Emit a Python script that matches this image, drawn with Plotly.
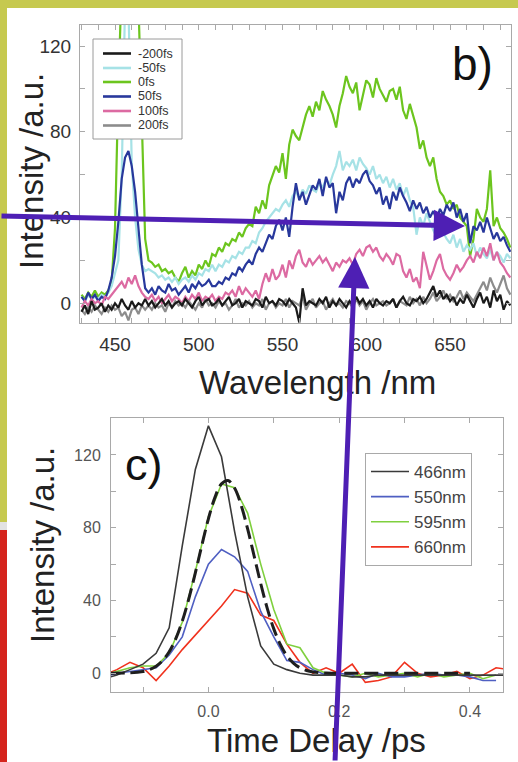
import plotly.graph_objects as go

W, H = 518, 762

def px(x):
    return x / W

def py(y):
    return 1 - y / H

# ---------------- panel b) : spectra ----------------
wavelength_nm = list(range(430, 687, 2))

spec_m200fs = [
    -4, -1, -5, 1, -3, -2, 0, -4, -1, -3,
    0, -2, 2, -1, -3, 1, -2, 0, -1, 2,
    -1, 1, -2, 0, 2, -1, 1, -2, 0, 1,
    -1, 2, 0, -2, 1, 3, -1, 1, 2, -1,
    0, 2, -1, 1, 3, -1, 0, 2, -2, 1,
    0, -1, 2, 1, -2, 3, 0, 1, -1, 2,
    1, -1, 2, 0, -2, -9, 7, -1, 1, 0,
    -1, 2, 0, 3, -2, 1, -1, 2, 0, -2,
    1, -1, 3, 0, 2, -1, 1, -2, 2, 0,
    -1, 1, 0, 2, -2, 1, 3, 0, -1, 2,
    1, 3, 0, 2, 5, 8, 3, 6, 2, 4,
    1, 3, -1, 2, 0, 4, 1, -2, 2, 5,
    0, 3, -2, 6, 1, 4, -3, 1, -1,
]
spec_m50fs = [
    3, 1, 4, 2, 3, 2, 4, 3, 5, 8,
    14, 20, 60, 140, 140, 65, 40, 25, 18, 15,
    16, 15, 14, 12, 13, 11, 12, 10, 12, 9,
    11, 12, 10, 13, 11, 14, 13, 16, 15, 18,
    15, 18, 17, 20, 19, 22, 21, 24, 23, 26,
    26, 29, 28, 33, 35, 38, 40, 42, 44, 43,
    46, 48, 45, 50, 52, 49, 53, 51, 55, 53,
    52, 56, 54, 58, 55, 60, 64, 71, 62, 66,
    64, 67, 62, 68, 65, 63, 60, 64, 58, 60,
    56, 59, 54, 58, 53, 56, 50, 54, 48, 45,
    32, 40, 36, 42, 38, 34, 31, 38, 33, 30,
    28, 32, 26, 30, 24, 27, 25, 28, 22, 26,
    23, 21, 25, 20, 24, 22, 19, 23, 21,
]
spec_0fs = [
    4, 2, 5, 3, 6, 3, 5, 4, 6, 10,
    35, 100, 150, 160, 165, 160, 155, 140, 90, 30,
    20, 19, 17, 18, 15, 16, 14, 15, 12, 10,
    14, 17, 12, 15, 13, 18, 16, 20, 17, 23,
    22, 26, 24, 28, 27, 30, 29, 33, 31, 35,
    37, 36, 45, 42, 48, 44, 55, 60, 64, 61,
    70, 58, 74, 81, 78, 76, 82, 88, 92, 87,
    94, 90, 99, 95, 92, 88, 82, 92, 98, 106,
    101, 98, 103, 90, 97, 104, 102, 96, 105, 100,
    97, 94, 99, 100, 95, 101, 90, 86, 93, 88,
    82, 72, 76, 68, 64, 68, 58, 52, 50, 46,
    48, 44, 46, 40, 38, 36, 22, 30, 44, 40,
    38, 44, 62, 36, 40, 35, 33, 30, 26,
]
spec_50fs = [
    3, 1, 5, 2, 4, 1, 3, 2, 6, 12,
    22, 38, 58, 68, 71, 64, 52, 36, 18, 7,
    5, 7, 4, 8, 6, 5, 9, 6, 7, 4,
    6, 8, 5, 9, 7, 10, 8, 9, 11, 8,
    8, 10, 9, 12, 11, 14, 13, 17, 15, 18,
    20, 18, 23, 26, 24, 28, 32, 30, 36, 39,
    34, 40, 31, 45, 56, 48, 52, 46, 51, 55,
    53, 58, 50, 59, 54, 56, 42, 52, 48, 56,
    59, 54, 58, 56, 60, 62, 57, 55, 51, 54,
    46, 50, 44, 52, 48, 54, 50, 47, 43, 48,
    44, 47, 42, 45, 40, 43, 39, 44, 41, 46,
    43, 47, 40, 44, 38, 42, 28, 36, 34, 38,
    33, 40, 35, 30, 33, 29, 31, 27, 24,
]
spec_100fs = [
    -2, 1, -1, 2, 0, 1, -1, 3, 2, 4,
    6, 8, 10, 7, 12, 9, 13, 8, 5, 3,
    2, 4, 1, 3, 0, 2, 4, 1, 3, 2,
    0, 3, 1, 4, 2, 5, 1, 3, 2, 4,
    1, 3, 2, 5, 4, 6, 3, 8, 4, 7,
    5, 3, 6, 2, 9, 14, 10, 16, 11, 13,
    18, 12, 20, 16, 22, 25, 19, 17, 21, 18,
    20, 22, 19, 21, 18, 15, 19, 17, 20, 19,
    21, 18, 23, 25, 22, 26, 27, 24, 26, 22,
    20, 23, 21, 18, 23, 22, 15, 12, 16, 10,
    12, 7, 24, 18, 11, 15, 20, 23, 16, 13,
    11, 14, 18, 15, 17, 20, 22, 19, 24, 21,
    26, 22, 28, 20, 24, 19, 17, 14, 12,
]
spec_200fs = [
    -3, -5, -2, -4, -1, -3, -5, -2, -4, -1,
    -3, -2, -6, -4, -8, -3, -2, -5, -1, -3,
    -1, -3, 0, -2, -1, -4, 0, -2, 1, -1,
    0, -2, 1, -1, -3, 0, -2, 2, -1, 0,
    -2, 1, -1, 0, -3, -1, 2, -2, 0, -1,
    1, -2, 0, -1, 2, -3, 0, 1, -2, 0,
    -1, 2, -2, 1, 0, -1, 3, -3, 0, 2,
    -2, 0, 1, -3, 0, 2, -1, 0, -2, 1,
    0, -2, 2, -1, 1, -3, 0, 2, -1, 0,
    1, -1, 0, 2, -2, 1, 0, -1, 3, 0,
    2, -1, 3, 0, 2, 5, 1, 3, 6, 2,
    4, 1, 3, 6, 2, 5, 3, 1, 4, 7,
    10, 6, 12, 8, 5, 9, 13, 7, 4,
]

spec_names = ["-200fs", "-50fs", "0fs", "50fs", "100fs", "200fs"]
spec_colors = ["#1a1a1a", "#a6e2e6", "#6cc51e", "#28389c", "#dc6aa2", "#8c8c8c"]
spec_values = [spec_m200fs, spec_m50fs, spec_0fs, spec_50fs, spec_100fs, spec_200fs]
spec_draw_order = [2, 1, 3, 4, 5, 0]

# ---------------- panel c) : kinetics ----------------
time_ps = [round(-0.16 + 0.02 * i, 2) for i in range(32)]
kin_466 = [-3, -1, 2, 5, 11, 25, 70, 112, 136, 119, 78, 42, 15, 5, 2, 0,
           -1, -1, -1, -2, -2, -1, -1, -1, -1, -1, -1, -1, -1, -1, -1, -1]
kin_550 = [-2, 0, 1, 2, 3, 10, 20, 42, 60, 68, 64, 56, 34, 20, 7, 6,
           2, -1, 0, -1, -3, 0, -2, -2, -1, 0, -1, -1, -2, -4, -4, None]
kin_595 = [-1, 1, 3, 4, 4, 11, 28, 56, 86, 104, 102, 88, 60, 35, 16, 14,
           3, 0, -1, -2, 0, -2, -1, 0, -2, 0, -2, -1, 0, -3, -1, None]
kin_660 = [-1, 2, 6, 3, -4, 4, 13, 21, 29, 37, 46, 44, 32, 29, 16, 6,
           0, 3, 0, 5, -5, -4, -2, 6, 0, -2, -1, 1, -3, -1, 3, 2]

fit_time_ps = [-0.15, -0.12, -0.10, -0.09, -0.08, -0.07, -0.06, -0.05, -0.04, -0.03,
               -0.02, -0.01, 0.00, 0.01, 0.02, 0.03, 0.04, 0.05, 0.06, 0.07,
               0.08, 0.09, 0.10, 0.11, 0.12, 0.13, 0.14, 0.15, 0.16, 0.18,
               0.25, 0.40]
fit_595 = [0, 0.2, 1.0, 2.0, 3.9, 7.0, 11.8, 18.9, 28.6, 40.9,
           55.2, 70.4, 84.9, 96.7, 104.1, 105.9, 101.8, 92.4, 79.3, 64.3,
           49.3, 35.7, 24.4, 15.8, 9.6, 5.6, 3.0, 1.5, 0.7, 0.1,
           0, 0]

kin_names = ["466nm", "550nm", "595nm", "660nm"]
kin_colors = ["#3a3a3a", "#4f5fc2", "#7fd03e", "#f0321e"]
kin_values = [kin_466, kin_550, kin_595, kin_660]
kin_draw_order = [3, 1, 2, 0]

FONT = "Liberation Sans, Arial, sans-serif"
PURPLE = "#4e1fb4"
YELLOW = "#c6c94f"

fig = go.Figure()

for i in spec_draw_order:
    fig.add_trace(go.Scatter(
        x=wavelength_nm, y=spec_values[i], name=spec_names[i], mode="lines",
        line=dict(color=spec_colors[i], width=2.2), showlegend=False,
        xaxis="x", yaxis="y"))

for i in kin_draw_order:
    fig.add_trace(go.Scatter(
        x=time_ps, y=kin_values[i], name=kin_names[i], mode="lines",
        line=dict(color=kin_colors[i], width=1.6), legendrank=i + 1,
        xaxis="x2", yaxis="y2", legend="legend2"))

fig.add_trace(go.Scatter(
    x=fit_time_ps, y=fit_595, mode="lines", showlegend=False,
    line=dict(color="#1e1e1e", width=3, dash="14px,6px", shape="spline"),
    xaxis="x2", yaxis="y2"))

axis_common = dict(
    showline=True, mirror="ticks", linecolor="#a9a9a9", linewidth=1,
    ticks="inside", ticklen=5, tickcolor="#a9a9a9", showgrid=False,
    zeroline=False, automargin=False,
)

fig.update_layout(
    width=W, height=H,
    margin=dict(l=0, r=0, t=0, b=0),
    paper_bgcolor=YELLOW,
    plot_bgcolor="white",
    font=dict(family=FONT, color="#222"),
    xaxis=dict(
        domain=[px(80), px(511)], range=[429.1, 686.4], anchor="y",
        tick0=450, dtick=50,
        minor=dict(dtick=10, ticks="inside", ticklen=5, tickcolor="#a9a9a9"),
        tickfont=dict(size=19, color="#333"), ticklabelstandoff=4,
        **axis_common),
    yaxis=dict(
        domain=[py(323), py(25)], range=[-9.2, 129.8], anchor="x",
        tick0=0, dtick=40,
        minor=dict(dtick=20, ticks="inside", ticklen=5, tickcolor="#a9a9a9"),
        tickfont=dict(size=19, color="#333"), ticklabelstandoff=4,
        **axis_common),
    xaxis2=dict(
        domain=[px(111), px(503)], range=[-0.149, 0.4506], anchor="y2",
        tick0=0, dtick=0.2, tickformat=".1f",
        minor=dict(dtick=0.1, ticks="inside", ticklen=5, tickcolor="#a9a9a9"),
        tickfont=dict(size=16, color="#555"), ticklabelstandoff=5,
        **axis_common),
    yaxis2=dict(
        domain=[py(692), py(418)], range=[-10.3, 140.3], anchor="x2",
        tick0=0, dtick=40,
        minor=dict(dtick=20, ticks="inside", ticklen=5, tickcolor="#a9a9a9"),
        tickfont=dict(size=16, color="#555"), ticklabelstandoff=6,
        **axis_common),
    legend2=dict(
        x=px(365), y=py(453), xanchor="left", yanchor="top",
        bgcolor="white", bordercolor="#a9a9a9", borderwidth=1,
        font=dict(size=17, color="#444"), tracegroupgap=0, itemwidth=38),
    showlegend=True,
)

shapes = [
    dict(type="rect", xref="paper", yref="paper", x0=px(7), x1=1.01, y0=-0.01, y1=py(8),
         fillcolor="white", line=dict(width=0), layer="below"),
    dict(type="rect", xref="paper", yref="paper", x0=-0.01, x1=px(7), y0=py(530), y1=py(522),
         fillcolor="#e2e2e2", line=dict(width=0), layer="below"),
    dict(type="rect", xref="paper", yref="paper", x0=-0.01, x1=px(7), y0=-0.01, y1=py(530),
         fillcolor="#d5241c", line=dict(width=0), layer="below"),
    # legend box of panel b)
    dict(type="rect", xref="paper", yref="paper", x0=px(93), x1=px(182), y0=py(139), y1=py(39),
         fillcolor="white", line=dict(color="#9a9a9a", width=1), layer="above"),
]

annotations = [
    dict(text="b)", x=px(472), y=py(64), xref="paper", yref="paper",
         xanchor="center", yanchor="middle",
         showarrow=False, font=dict(size=46, color="#111", family=FONT)),
    dict(text="c)", x=px(144), y=py(464), xref="paper", yref="paper",
         xanchor="center", yanchor="middle",
         showarrow=False, font=dict(size=45, color="#111", family=FONT)),
    dict(text="Intensity /a.u.", x=px(31), y=py(171), xref="paper", yref="paper",
         xanchor="center", yanchor="middle", textangle=-90,
         showarrow=False, font=dict(size=33, color="#222", family=FONT)),
    dict(text="Intensity /a.u.", x=px(42), y=py(545), xref="paper", yref="paper",
         xanchor="center", yanchor="middle", textangle=-90,
         showarrow=False, font=dict(size=33, color="#222", family=FONT)),
    dict(text="Wavelength /nm", x=px(317), y=py(383), xref="paper", yref="paper",
         xanchor="center", yanchor="middle",
         showarrow=False, font=dict(size=33, color="#222", family=FONT)),
    dict(text="Time Delay /ps", x=px(316), y=py(740), xref="paper", yref="paper",
         xanchor="center", yanchor="middle",
         showarrow=False, font=dict(size=33, color="#222", family=FONT)),
]

# legend entries of panel b)
legend_b_y = [53.5, 68, 82, 96.5, 111, 125.5]
for k in range(len(spec_names)):
    yy = py(legend_b_y[k])
    shapes.append(dict(type="line", xref="paper", yref="paper",
                       x0=px(103), x1=px(131), y0=yy, y1=yy,
                       line=dict(color=spec_colors[k], width=2.6), layer="above"))
    annotations.append(dict(text=spec_names[k], x=px(136), y=yy, xref="paper", yref="paper",
                            xanchor="left", yanchor="middle", showarrow=False,
                            font=dict(size=12.5, color="#333", family=FONT)))

annotations += [
    dict(text="", x=px(465), y=py(226), xref="paper", yref="paper",
         ax=-465, ay=-10, axref="pixel", ayref="pixel", showarrow=True,
         arrowhead=2, arrowsize=1.25, arrowwidth=5, arrowcolor=PURPLE),
    dict(text="", x=px(355), y=py(257), xref="paper", yref="paper",
         ax=-20, ay=505, axref="pixel", ayref="pixel", showarrow=True,
         arrowhead=2, arrowsize=1.25, arrowwidth=5, arrowcolor=PURPLE),
]

fig.update_layout(shapes=shapes, annotations=annotations)

fig.write_html("out.html")
